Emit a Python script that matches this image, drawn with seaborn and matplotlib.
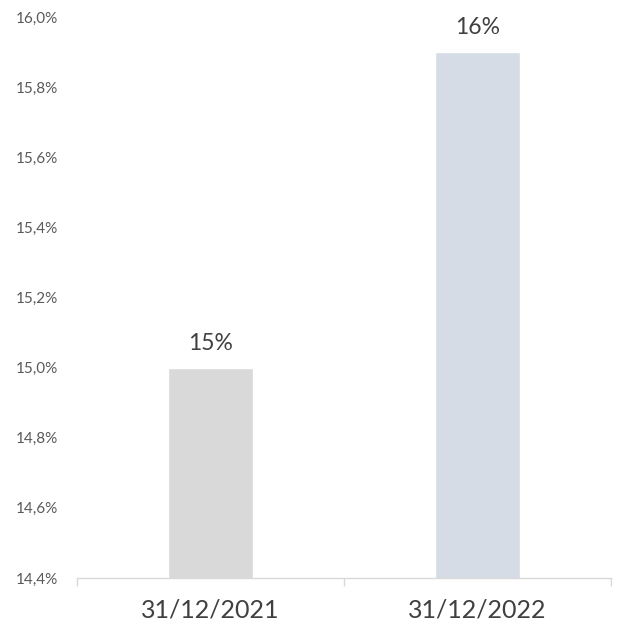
import matplotlib
matplotlib.use("Agg")
import matplotlib.pyplot as plt
from matplotlib.ticker import FuncFormatter, FixedLocator
import seaborn as sns
import pandas as pd

dates = ["31/12/2021", "31/12/2022"]
ratios = [0.150, 0.159]
bar_colors = ["#D9D9D9", "#D6DCE5"]
y_ticks = [0.144, 0.146, 0.148, 0.150, 0.152, 0.154, 0.156, 0.158, 0.160]

sns.set_theme(style="white")
plt.rcParams["font.family"] = ["Lato", "DejaVu Sans"]

df = pd.DataFrame({"date": dates, "ratio": ratios})

fig = plt.figure(figsize=(6.22, 6.31), dpi=100)
ax = fig.add_axes([77 / 622, 53 / 631, 534 / 622, 561 / 631])

sns.barplot(data=df, x="date", y="ratio", hue="date", palette=bar_colors,
            width=0.315, legend=False, ax=ax, saturation=1)

ax.set_ylim(0.144, 0.160)
ax.set_xlim(-0.5, 1.5)
ax.yaxis.set_major_locator(FixedLocator(y_ticks))
ax.yaxis.set_major_formatter(
    FuncFormatter(lambda v, _: f"{v * 100:.1f}%".replace(".", ",")))

for container in ax.containers:
    ax.bar_label(container, labels=[f"{b.get_height() * 100:.0f}%" for b in container],
                 padding=10, fontsize=16.5, color="#404040")

ax.set_xlabel("")
ax.set_ylabel("")
for side in ["left", "right", "top"]:
    ax.spines[side].set_visible(False)
ax.spines["bottom"].set_color("#D9D9D9")
ax.spines["bottom"].set_linewidth(1.0)

ax.tick_params(axis="y", length=0, labelsize=11, labelcolor="#595959", pad=14)
ax.tick_params(axis="x", which="major", length=0, labelsize=18,
               labelcolor="#404040", pad=15)
ax.set_xticks([-0.5, 0.5, 1.5], minor=True)
ax.tick_params(axis="x", which="minor", bottom=True, length=6,
               color="#D9D9D9", width=1)

fig.savefig("out.png", dpi=100, facecolor="white")
